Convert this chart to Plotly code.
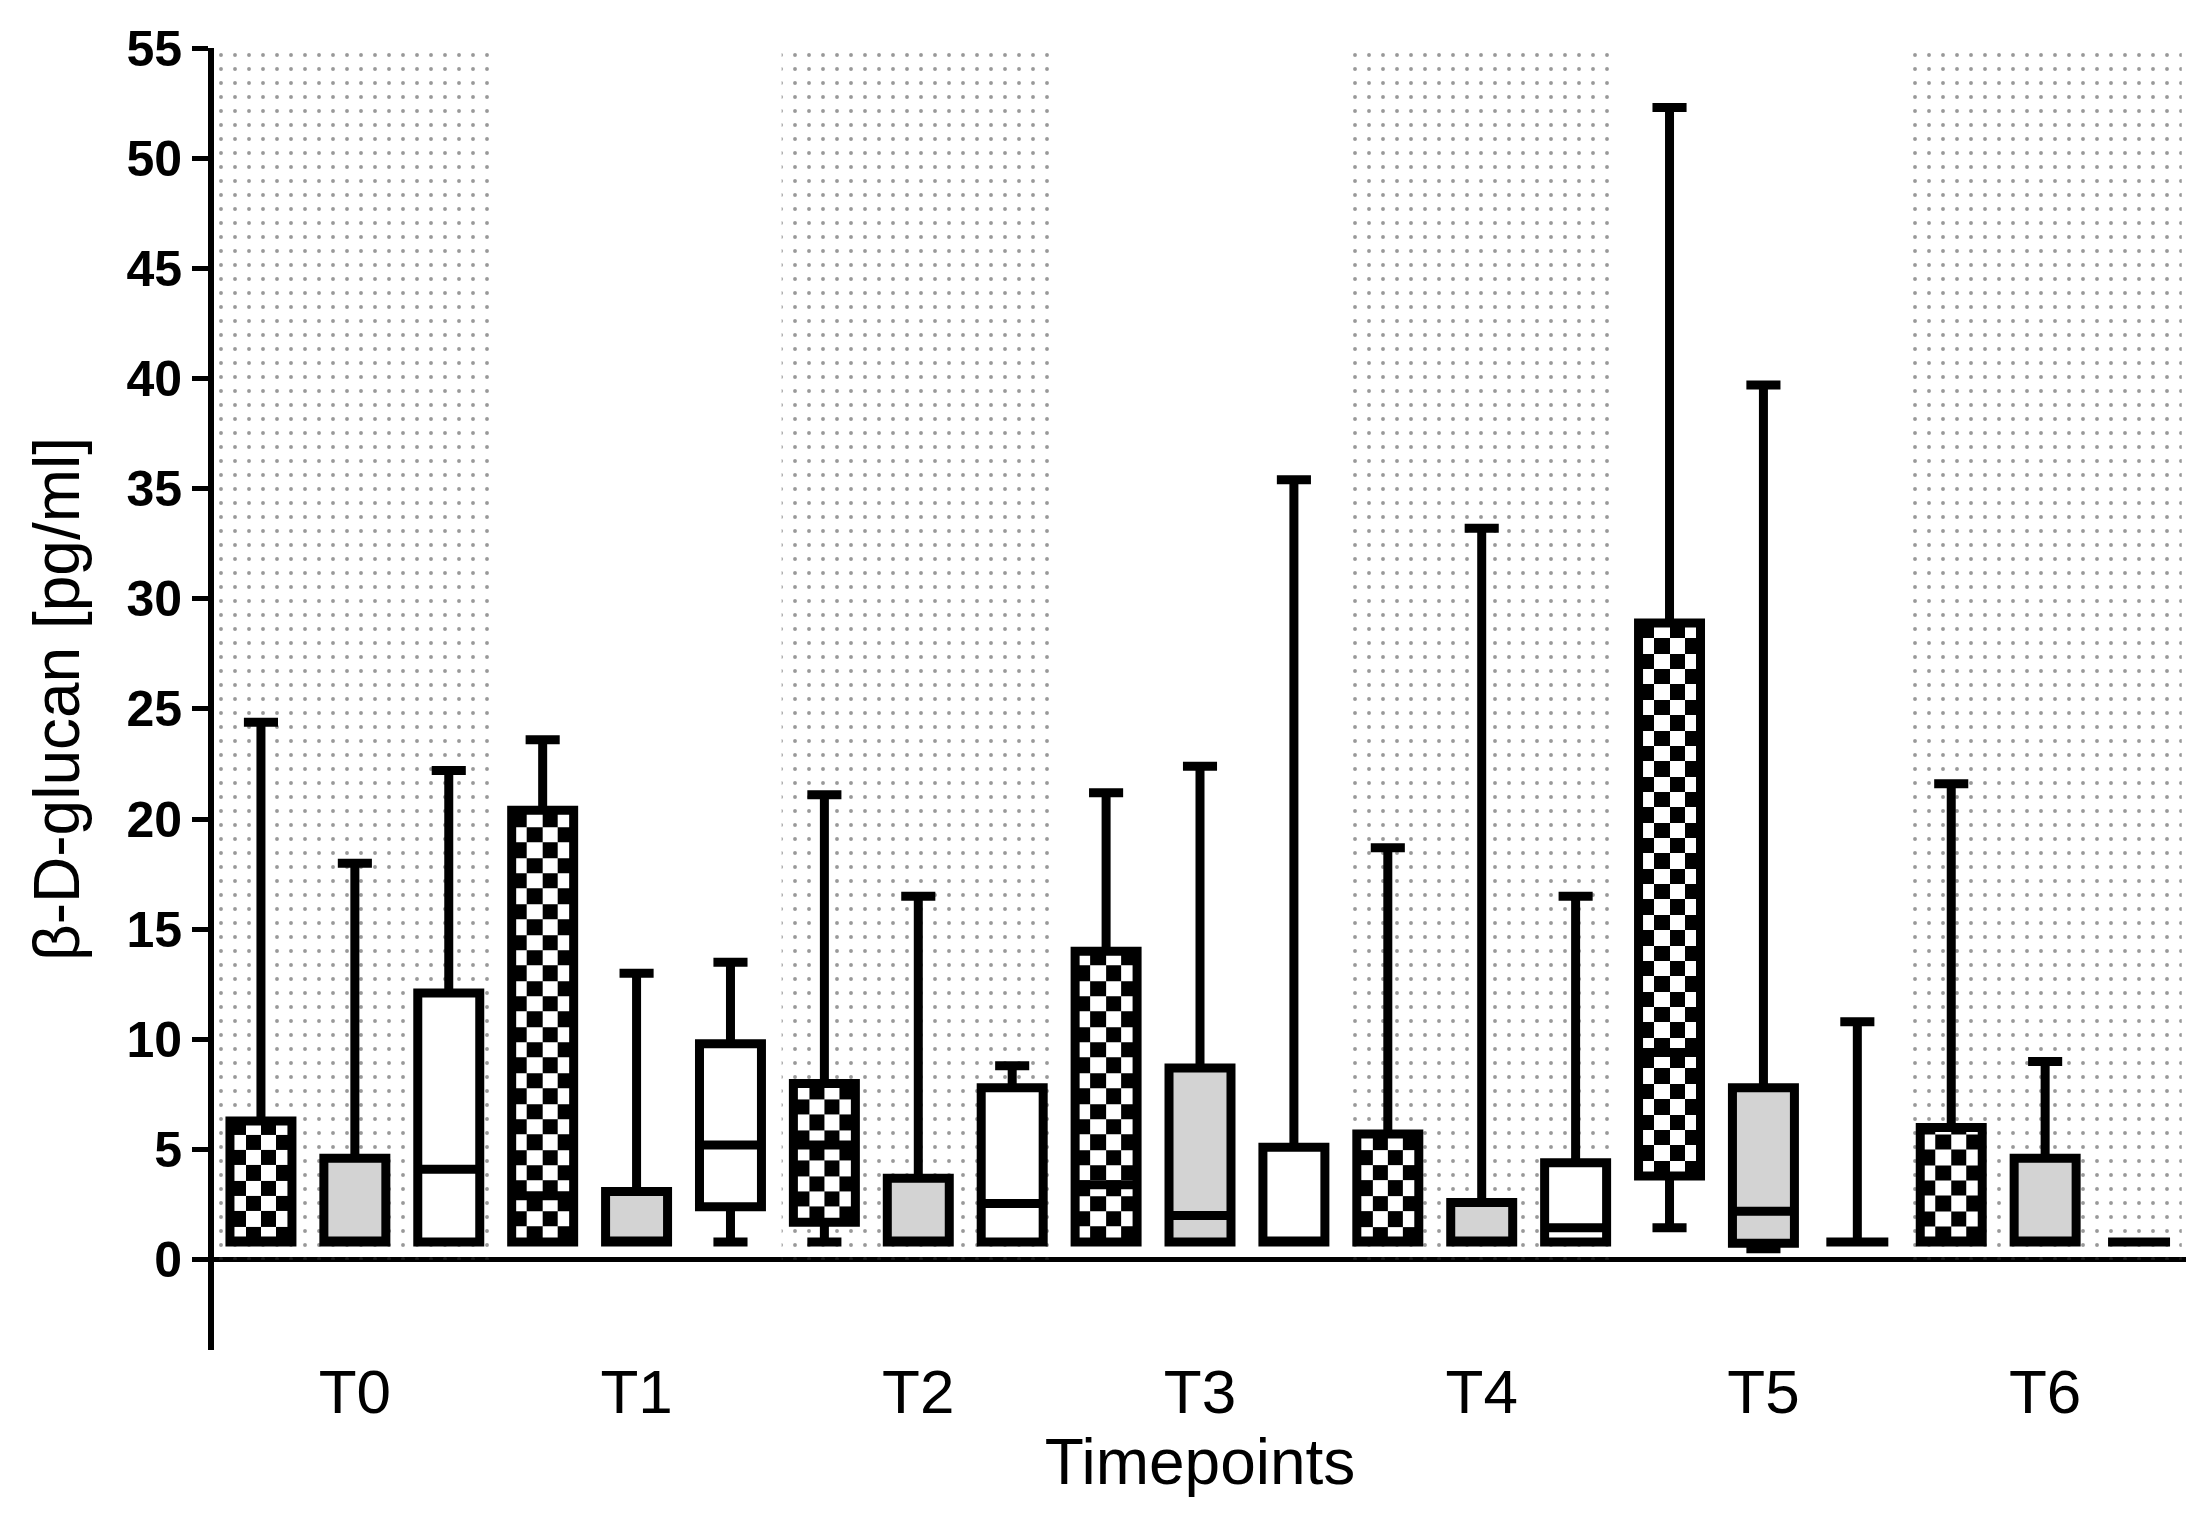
import numpy as np
import plotly.graph_objects as go

# timepoints on the x axis
timepoints = ["T0", "T1", "T2", "T3", "T4", "T5", "T6"]

# checkered group (min, q1, median, q3, max)
check_min = [0.8, 0.8, 0.8, 0.8, 0.8, 1.45, 0.8]
check_q1 = [0.8, 0.8, 1.7, 0.8, 0.8, 3.8, 0.8]
check_med = [0.8, 2.9, 5.2, 3.4, 0.8, 9.4, 0.8]
check_q3 = [6.3, 20.4, 8.0, 14.0, 5.7, 28.9, 6.0]
check_max = [24.4, 23.6, 21.1, 21.2, 18.7, 52.3, 21.6]

# grey group
grey_min = [0.8, 0.8, 0.8, 0.8, 0.8, 0.5, 0.8]
grey_q1 = [0.8, 0.8, 0.8, 0.8, 0.8, 0.75, 0.8]
grey_med = [0.8, 0.8, 0.8, 2.0, 0.8, 2.2, 0.8]
grey_q3 = [4.6, 3.1, 3.7, 8.7, 2.6, 7.8, 4.6]
grey_max = [18.0, 13.0, 16.5, 22.4, 33.2, 39.7, 9.0]

# white group
white_min = [0.8, 0.8, 0.8, 0.8, 0.8, 0.8, 0.8]
white_q1 = [0.8, 2.4, 0.8, 0.8, 0.8, 0.8, 0.8]
white_med = [4.1, 5.2, 2.55, 0.8, 1.45, 0.8, 0.8]
white_q3 = [12.1, 9.8, 7.8, 5.1, 4.4, 0.8, 0.8]
white_max = [22.2, 13.5, 8.8, 35.4, 16.5, 10.8, 0.8]

# timepoints with the dotted background band
shaded = ["T0", "T2", "T4", "T6"]

W, H = 2208, 1520
ML, MR, MT, MB = 206, 30, 29, 178
Y_RANGE = [-4.1, 55]
X_RANGE = [-0.5, 6.5]
BOX_W = 0.22
OFFSET = 1 / 3
FONT = "Liberation Sans"

px_x = (W - ML - MR) / (X_RANGE[1] - X_RANGE[0])
px_y = (H - MT - MB) / (Y_RANGE[1] - Y_RANGE[0])

idx = np.arange(len(timepoints))
fig = go.Figure()

# dotted bands behind alternate timepoints
fig.add_trace(go.Bar(
    x=[timepoints.index(t) for t in shaded],
    y=[Y_RANGE[1]] * len(shaded),
    width=0.97,
    marker=dict(
        color="rgba(0,0,0,0)",
        line=dict(width=0),
        pattern=dict(shape=".", fgcolor="#333333", size=14, solidity=0.06,
                     fillmode="overlay"),
    ),
    hoverinfo="skip",
))

# checkerboard fill for the first group (drawn under the box outlines)
ncol = 4
cell = BOX_W / ncol
dy = cell * px_x / px_y
for i in idx:
    xc = i - OFFSET
    xe = np.linspace(xc - BOX_W / 2, xc + BOX_W / 2, ncol + 1)
    ye = np.arange(check_q1[i], check_q3[i], dy)
    ye = np.append(ye, check_q3[i])
    nrow = len(ye) - 1
    z = [[(r + c) % 2 for c in range(ncol)] for r in range(nrow)]
    fig.add_trace(go.Heatmap(
        x=xe, y=ye, z=z, yaxis="y2",
        colorscale=[[0, "white"], [1, "black"]], zmin=0, zmax=1,
        showscale=False, hoverinfo="skip",
    ))

groups = [
    (check_min, check_q1, check_med, check_q3, check_max, -OFFSET, "rgba(0,0,0,0)"),
    (grey_min, grey_q1, grey_med, grey_q3, grey_max, 0.0, "#d3d3d3"),
    (white_min, white_q1, white_med, white_q3, white_max, OFFSET, "white"),
]
for lo, q1, med, q3, hi, off, fill in groups:
    fig.add_trace(go.Box(
        x=list(idx + off), q1=q1, median=med, q3=q3,
        lowerfence=lo, upperfence=hi,
        orientation="v", width=BOX_W, whiskerwidth=0.55,
        fillcolor=fill, line=dict(color="black", width=9),
        boxpoints=False, yaxis="y2", hoverinfo="skip",
    ))

fig.update_layout(
    width=W, height=H,
    margin=dict(l=ML, r=MR, t=MT, b=MB),
    paper_bgcolor="white", plot_bgcolor="white",
    showlegend=False, barmode="overlay",
    font=dict(family=FONT, color="black"),
    xaxis=dict(
        range=X_RANGE, tickvals=list(idx), ticktext=timepoints,
        showgrid=False, zeroline=False, showline=False, ticks="",
        tickfont=dict(size=62), ticklabelstandoff=0,
        title=dict(text="Timepoints", font=dict(size=64), standoff=10),
    ),
    yaxis=dict(
        range=Y_RANGE, tickvals=list(range(0, 56, 5)),
        showgrid=False, zeroline=True, zerolinecolor="black", zerolinewidth=5,
        showline=True, linecolor="black", linewidth=6,
        ticks="outside", ticklen=16, tickwidth=5, tickcolor="black",
        tickfont=dict(size=50, weight="bold"), ticklabeloverflow="allow",
        title=dict(text="β-D-glucan [pg/ml]", font=dict(size=64), standoff=28),
    ),
    yaxis2=dict(range=Y_RANGE, overlaying="y", visible=False),
)

fig.write_html("out.html")
